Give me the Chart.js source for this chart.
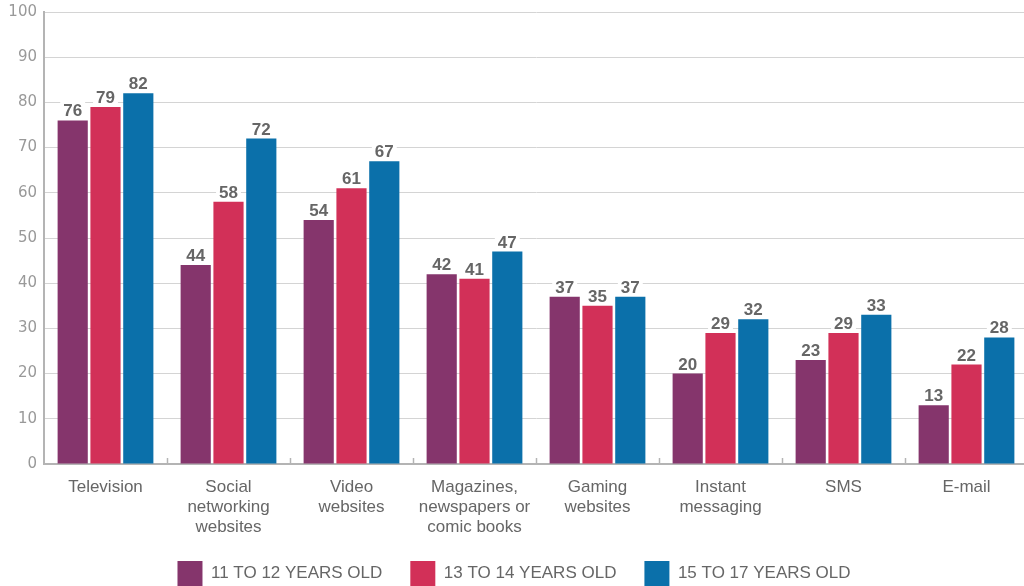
<!DOCTYPE html>
<html>
<head>
<meta charset="utf-8">
<script src="https://cdn.jsdelivr.net/npm/chart.js@4.4.1/dist/chart.umd.min.js"></script>
<style>
  html, body { margin: 0; padding: 0; background: #fff; overflow: hidden; }
  #wrap { width: 1024px; height: 586px; overflow: hidden; position: relative; }
  canvas { display: block; }
</style>
</head>
<body>
<div id="wrap"><canvas id="chart" width="1032" height="600"></canvas></div>
<script>
// Media use by age group (percent)
const categories = [
  ['Television'],
  ['Social', 'networking', 'websites'],
  ['Video', 'websites'],
  ['Magazines,', 'newspapers or', 'comic books'],
  ['Gaming', 'websites'],
  ['Instant', 'messaging'],
  ['SMS'],
  ['E-mail']
];
const seriesNames = ['11 TO 12 YEARS OLD', '13 TO 14 YEARS OLD', '15 TO 17 YEARS OLD'];
const age11to12 = [76, 44, 54, 42, 37, 20, 23, 13];
const age13to14 = [79, 58, 61, 41, 35, 29, 29, 22];
const age15to17 = [82, 72, 67, 47, 37, 32, 33, 28];
const yTicks = [0, 10, 20, 30, 40, 50, 60, 70, 80, 90, 100];

const colors = ['#85356c', '#d23058', '#0b70aa'];
const FONT = "'Liberation Sans', Arial, sans-serif";
const TICK_FONT = "'DejaVu Sans', sans-serif";

// Value labels above each bar, on a white backing
const valueLabels = {
  id: 'valueLabels',
  afterDatasetsDraw(chart) {
    const ctx = chart.ctx;
    ctx.save();
    ctx.font = 'bold 17px ' + FONT;
    ctx.textAlign = 'center';
    ctx.textBaseline = 'alphabetic';
    chart.data.datasets.forEach((ds, di) => {
      const meta = chart.getDatasetMeta(di);
      meta.data.forEach((bar, i) => {
        const txt = String(ds.data[i]);
        const w = ctx.measureText(txt).width;
        const base = bar.y - 4;
        ctx.fillStyle = '#ffffff';
        ctx.fillRect(bar.x - w / 2 - 3, base - 15, w + 6, 17);
        ctx.fillStyle = '#666666';
        ctx.fillText(txt, bar.x, base);
      });
    });
    ctx.restore();
  }
};

// Short upward ticks on the x axis between categories
const categoryTicks = {
  id: 'categoryTicks',
  afterDatasetsDraw(chart) {
    const x = chart.scales.x;
    const bottom = chart.chartArea.bottom;
    const ctx = chart.ctx;
    ctx.save();
    ctx.strokeStyle = '#b4b4b4';
    ctx.lineWidth = 1.5;
    for (let i = 0; i < categories.length - 1; i++) {
      const px = Math.round((x.getPixelForValue(i) + x.getPixelForValue(i + 1)) / 2) + 0.5;
      ctx.beginPath();
      ctx.moveTo(px, bottom);
      ctx.lineTo(px, bottom - 6);
      ctx.stroke();
    }
    ctx.restore();
  }
};

new Chart(document.getElementById('chart'), {
  type: 'bar',
  data: {
    labels: categories,
    datasets: [
      { label: seriesNames[0], data: age11to12, backgroundColor: colors[0] },
      { label: seriesNames[1], data: age13to14, backgroundColor: colors[1] },
      { label: seriesNames[2], data: age15to17, backgroundColor: colors[2] }
    ]
  },
  options: {
    responsive: false,
    animation: false,
    layout: { padding: { top: 12, right: 4, left: 0, bottom: 4 } },
    datasets: {
      bar: { categoryPercentage: 0.8, barPercentage: 0.92 }
    },
    scales: {
      x: {
        grid: { display: true, drawOnChartArea: false, drawTicks: false },
        border: { color: '#b4b4b4', width: 2 },
        ticks: {
          color: '#666666',
          font: { family: FONT, size: 17, lineHeight: 1.18 },
          padding: 13,
          maxRotation: 0,
          autoSkip: false
        },
        afterFit(scale) { scale.height = 69; }
      },
      y: {
        min: 0,
        max: 100,
        afterBuildTicks(scale) { scale.ticks = yTicks.map(v => ({ value: v })); },
        grid: { color: '#d4d4d4', lineWidth: 1, drawTicks: false },
        border: { color: '#b4b4b4', width: 2 },
        ticks: {
          color: '#999999',
          font: { family: TICK_FONT, size: 15 },
          padding: 7
        },
        afterFit(scale) {
          scale.width = 44;
          scale.paddingTop = 0;
          scale.paddingBottom = 0;
        }
      }
    },
    plugins: {
      legend: {
        position: 'bottom',
        labels: {
          boxWidth: 25,
          boxHeight: 25,
          color: '#666666',
          font: { family: FONT, size: 17 },
          padding: 28
        }
      },
      tooltip: { enabled: false }
    }
  },
  plugins: [valueLabels, categoryTicks]
});
</script>
</body>
</html>
